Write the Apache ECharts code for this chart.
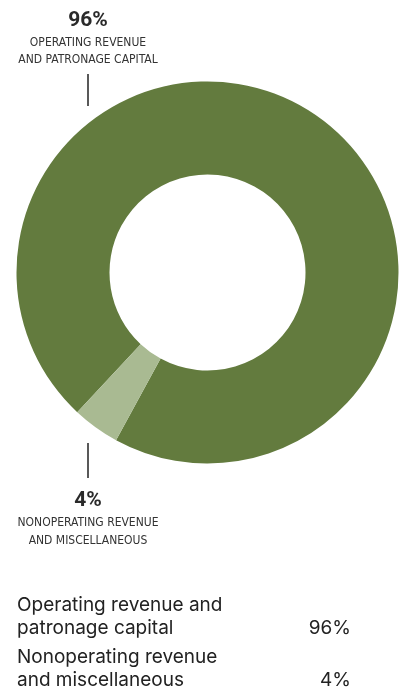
<!DOCTYPE html>
<html>
<head>
<meta charset="utf-8">
<script src="https://cdn.jsdelivr.net/npm/echarts@6/dist/echarts.min.js"></script>
<style>
html,body{margin:0;padding:0;background:#fff;}
#chart{width:406px;height:691px;}
</style>
</head>
<body>
<div id="chart"></div>
<script>
// Data
const categories = ['Operating revenue and patronage capital', 'Nonoperating revenue and miscellaneous'];
const values = [96, 4];
const calloutLines = [['OPERATING REVENUE', 'AND PATRONAGE CAPITAL'], ['NONOPERATING REVENUE', 'AND MISCELLANEOUS']];
const tableLines = [['Operating revenue and', 'patronage capital'], ['Nonoperating revenue', 'and miscellaneous']];
const colors = ['#637b3e', '#a9ba92'];

const chart = echarts.init(document.getElementById('chart'), null, {renderer: 'canvas'});

const capFont = '"DejaVu Sans Condensed", "Liberation Sans Narrow", sans-serif';
const pctFont = 'Roboto, Inter, sans-serif';
const bodyFont = 'Inter, Roboto, sans-serif';

const graphics = [];
// top callout
graphics.push({type: 'text', x: 88, y: 21, style: {text: values[0] + '%', font: 'bold 21px ' + pctFont, fill: '#2a2a2a', textAlign: 'center', textVerticalAlign: 'middle'}});
calloutLines[0].forEach((t, i) => graphics.push({type: 'text', x: 88, y: 43 + i * 17, style: {text: t, font: '12px ' + capFont, fill: '#333', textAlign: 'center', textVerticalAlign: 'middle'}}));
graphics.push({type: 'line', shape: {x1: 88, y1: 74, x2: 88, y2: 106}, style: {stroke: '#222', lineWidth: 1.5}});
// bottom callout
graphics.push({type: 'line', shape: {x1: 88, y1: 443, x2: 88, y2: 478}, style: {stroke: '#222', lineWidth: 1.5}});
graphics.push({type: 'text', x: 88, y: 501, style: {text: values[1] + '%', font: 'bold 21px ' + pctFont, fill: '#2a2a2a', textAlign: 'center', textVerticalAlign: 'middle'}});
calloutLines[1].forEach((t, i) => graphics.push({type: 'text', x: 88, y: 523 + i * 18, style: {text: t, font: '12px ' + capFont, fill: '#333', textAlign: 'center', textVerticalAlign: 'middle'}}));
// table
const rowTop = [605, 657];
tableLines.forEach((lines, r) => {
  lines.forEach((t, i) => graphics.push({type: 'text', x: 17, y: rowTop[r] + i * 23.5, style: {text: t, font: '19px ' + bodyFont, fill: '#222', textAlign: 'left', textVerticalAlign: 'middle'}}));
  graphics.push({type: 'text', x: 351, y: rowTop[r] + 23.5, style: {text: values[r] + '%', font: '19px ' + bodyFont, fill: '#222', textAlign: 'right', textVerticalAlign: 'middle'}});
});

chart.setOption({
  animation: false,
  series: [{
    type: 'pie',
    center: [207.5, 272.5],
    radius: [98, 191],
    startAngle: 227,
    clockwise: true,
    label: {show: false},
    labelLine: {show: false},
    emphasis: {disabled: true},
    itemStyle: {borderWidth: 0},
    data: categories.map((c, i) => ({name: c, value: values[i], itemStyle: {color: colors[i]}}))
  }],
  graphic: graphics
});
</script>
</body>
</html>
